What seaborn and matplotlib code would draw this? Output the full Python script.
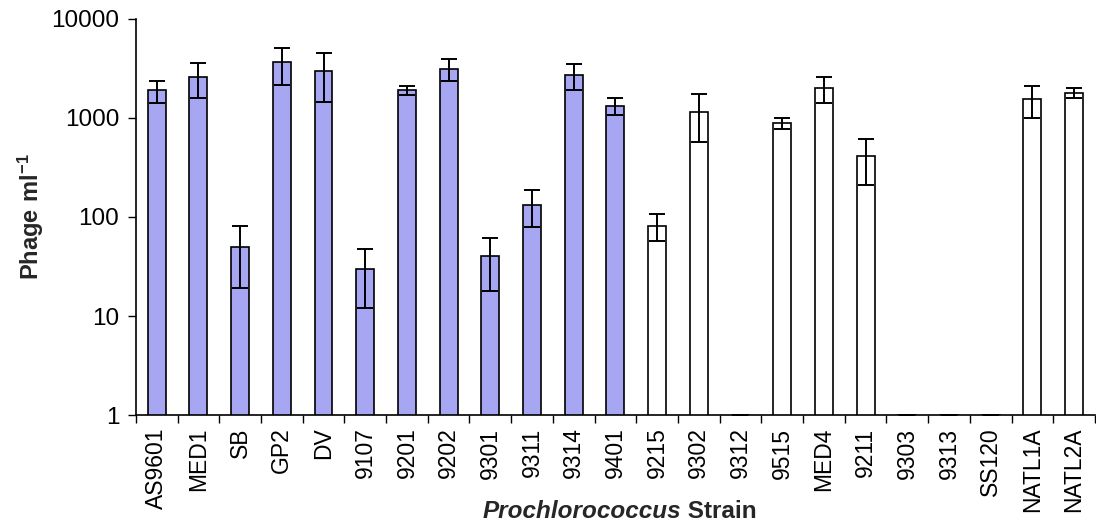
import matplotlib
matplotlib.use("Agg")
import matplotlib.pyplot as plt
import seaborn as sns
import pandas as pd
import numpy as np
from matplotlib.ticker import FixedLocator, NullLocator, FixedFormatter

strains = ["AS9601", "MED1", "SB", "GP2", "DV", "9107", "9201", "9202", "9301", "9311",
           "9314", "9401", "9215", "9302", "9312", "9515", "MED4", "9211", "9303", "9313",
           "SS120", "NATL1A", "NATL2A"]
phage = [1900, 2600, 50, 3650, 3000, 30, 1900, 3150, 40, 133,
         2700, 1330, 82, 1150, 1, 880, 2000, 410, 1, 1,
         1, 1550, 1790]
errors = [480, 1000, 31, 1500, 1550, 18, 200, 800, 22, 53,
          800, 270, 25, 580, 0, 110, 580, 200, 0, 0,
          0, 540, 200]
groups = ["filled"] * 12 + ["open"] * 11
palette = {"filled": "#9999FF", "open": "#FFFFFF"}
yticks = [1, 10, 100, 1000, 10000]
ytick_labels = ["1", "10", "100", "1000", "10000"]

df = pd.DataFrame({"strain": strains, "phage": phage, "err": errors, "group": groups})

sns.set_style("ticks")
plt.rcParams["font.family"] = ["Liberation Sans", "DejaVu Sans"]
plt.rcParams["mathtext.fontset"] = "custom"
plt.rcParams["mathtext.rm"] = "Liberation Sans"
plt.rcParams["mathtext.bf"] = "Liberation Sans:bold"

fig = plt.figure(figsize=(10.96, 5.27), dpi=100)
ax_left, ax_w = 0.124, 0.875
ax = fig.add_axes([ax_left, 0.2125, ax_w, 0.7515])

sns.barplot(data=df, x="strain", y="phage", hue="group", palette=palette, dodge=False,
            legend=False, errorbar=None, width=0.43, edgecolor="black", linewidth=1.2, ax=ax)
ax.set_yscale("log")
ax.errorbar(x=np.arange(len(strains)), y=df["phage"], yerr=df["err"], fmt="none",
            ecolor="black", elinewidth=1.4, capsize=6, capthick=1.4, zorder=5)

ax.set_ylim(1, 10000)
ax.set_xlim(-0.5, len(strains) - 0.5)
ax.yaxis.set_major_locator(FixedLocator(yticks))
ax.yaxis.set_major_formatter(FixedFormatter(ytick_labels))
ax.yaxis.set_minor_locator(NullLocator())
ax.tick_params(axis="y", labelsize=17.5, length=6, width=1, color="black", labelcolor="black", pad=6)

# category boundary ticks
ax.set_xticks(np.arange(len(strains)))
ax.set_xticklabels(strains, rotation=90, fontsize=16.5)
ax.tick_params(axis="x", which="major", length=0, pad=9, labelcolor="black")
ax.set_xticks(np.arange(len(strains) + 1) - 0.5, minor=True)
ax.tick_params(axis="x", which="minor", length=6, width=1, color="black")

for s in ["top", "right"]:
    ax.spines[s].set_visible(False)
for s in ["left", "bottom"]:
    ax.spines[s].set_color("black")
    ax.spines[s].set_linewidth(1.2)

ax.set_ylabel(r"$\mathbf{Phage\ ml^{-1}}$", fontsize=17, labelpad=4)
ax.set_xlabel("")

# x label: italic bold "Prochlorococcus" + bold "Strain"
fig.canvas.draw()
renderer = fig.canvas.get_renderer()
ypos = 0.008
t1 = fig.text(0, ypos, "Prochlorococcus", fontsize=17.5, fontweight="bold", style="italic",
              ha="left", va="bottom")
t2 = fig.text(0, ypos, " Strain", fontsize=17.5, fontweight="bold", ha="left", va="bottom")
w1 = t1.get_window_extent(renderer).width / fig.bbox.width
w2 = t2.get_window_extent(renderer).width / fig.bbox.width
center = ax_left + ax_w * 0.5 + 0.004
start = center - (w1 + w2) / 2
t1.set_x(start)
t2.set_x(start + w1)

fig.savefig("out.png", dpi=100)
